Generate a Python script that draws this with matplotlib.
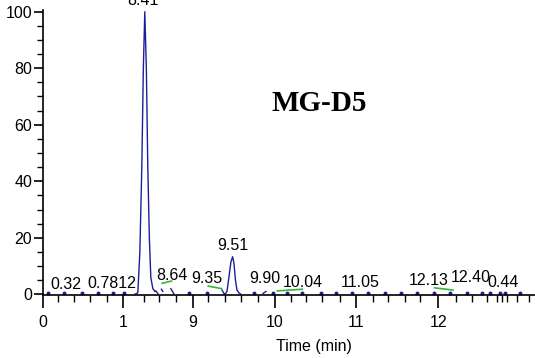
import numpy as np
import matplotlib
matplotlib.use("Agg")
import matplotlib.pyplot as plt
from matplotlib import font_manager as fm

# ---------------- data ----------------
major_tick_pos = [0, 0.99, 1.85, 2.86, 3.86, 4.88]
major_tick_labels = ['0', '1', '9', '10', '11', '12']
minor_tick_pos = [0.19, 0.39, 0.58, 0.79, 1.25, 1.44, 1.64, 2.04, 2.25, 2.45, 2.66,
                  3.06, 3.25, 3.44, 3.67, 4.07, 4.26, 4.47, 4.65, 5.09, 5.29, 5.48,
                  5.60, 5.66, 5.72, 5.85, 5.99]

# chromatogram trace (segments separated by NaN)
trace_x = [1.136, 1.173, 1.198, 1.222, 1.241, 1.259, 1.278, 1.296, 1.315, 1.333, 1.358, 1.383, np.nan,
           1.395, 1.420, np.nan,
           1.463, 1.481, np.nan,
           1.580, 1.617, np.nan,
           2.210, 2.235, np.nan,
           2.247, 2.272, 2.296, 2.321, 2.342, 2.358, 2.377, 2.395, 2.420, 2.444, np.nan,
           2.716, 2.753]
trace_y = [0, 0.5, 15, 45, 80, 100, 80, 45, 20, 6, 2, 1, np.nan,
           1.2, 0.3, np.nan,
           1.8, 1.0, np.nan,
           2.0, 0.2, np.nan,
           1.5, 0.3, np.nan,
           0, 1, 6, 11.5, 13.3, 11, 5, 1.5, 0.5, 0, np.nan,
           0.3, 1.0]

# baseline sample points
base_x = [0.06, 0.26, 0.48, 0.68, 0.87, 1.00, 1.81, 2.02, 2.61, 2.84, 3.01, 3.20, 3.43,
          3.62, 3.81, 4.01, 4.22, 4.42, 4.62, 4.83, 5.02, 5.23, 5.42, 5.51, 5.64, 5.70, 5.89]
base_y = [0.3] * len(base_x)

# integration baselines (green)
integ_x = [[1.473, 1.589], [2.041, 2.206], [2.893, 3.201], [4.831, 5.058]]
integ_y = [[3.9, 4.7], [2.9, 2.0], [1.2, 1.8], [2.3, 1.5]]

# peak annotations
peak_labels = ['8.41', '0.32', '0.7812', '8.64', '9.35', '9.51', '9.90', '10.04',
               '11.05', '12.13', '12.40', '0.44']
peak_label_x = [1.238, 0.288, 0.852, 1.593, 2.025, 2.346, 2.741, 3.210, 3.914, 4.765, 5.272, 5.673]
peak_label_y = [102.5, 2.05, 2.12, 5.06, 3.9, 15.7, 3.9, 2.7, 2.7, 3.3, 4.5, 2.7]

title_text = 'MG-D5'
xlabel_text = 'Time (min)'

# ---------------- fonts ----------------
names = {f.name for f in fm.fontManager.ttflist}
narrow = 'Liberation Sans Narrow' if 'Liberation Sans Narrow' in names else 'Liberation Sans'
serif = 'Liberation Serif' if 'Liberation Serif' in names else 'DejaVu Serif'
plt.rcParams['font.family'] = [narrow, 'DejaVu Sans']

# ---------------- figure ----------------
fig = plt.figure(figsize=(5.35, 3.58), dpi=100)
ax = fig.add_axes([0.0798, 0.1746, 0.9202, 0.7966])

blue = '#1e1e9a'
ax.plot(trace_x, trace_y, color=blue, lw=1.0, solid_joinstyle='round')
ax.plot(base_x, base_y, linestyle='none', marker='o', markersize=1.8, color=blue)
for xs, ys in zip(integ_x, integ_y):
    ax.plot(xs, ys, color='#33b533', lw=1.2)

for lab, x, y in zip(peak_labels, peak_label_x, peak_label_y):
    ax.text(x, y, lab, ha='center', va='baseline', fontsize=11.5, clip_on=False)

ax.set_xlim(0, 6.07)
ax.set_ylim(-0.42, 100.5)

ax.spines['top'].set_visible(False)
ax.spines['right'].set_visible(False)
for s in ('left', 'bottom'):
    ax.spines[s].set_linewidth(1.2)

ax.set_xticks(major_tick_pos)
ax.set_xticklabels(major_tick_labels)
ax.set_xticks(minor_tick_pos, minor=True)
ax.set_yticks([0, 20, 40, 60, 80, 100])
ax.set_yticks(np.arange(0, 101, 5), minor=True)

ax.tick_params(axis='x', which='major', direction='out', length=9.4, width=1.2, pad=5, labelsize=11.5)
ax.tick_params(axis='x', which='minor', direction='out', length=5, width=1.0)
ax.tick_params(axis='y', which='major', direction='out', length=6.8, width=1.2, pad=0.8, labelsize=11.5)
ax.tick_params(axis='y', which='minor', direction='out', length=4, width=1.0)

fig.text(0.596, 0.712, title_text, ha='center', va='center', fontsize=21,
         fontweight='bold', family=serif)
fig.text(0.587, 0.0335, xlabel_text, ha='center', va='center', fontsize=11.5)

fig.savefig('out.png', dpi=100)
